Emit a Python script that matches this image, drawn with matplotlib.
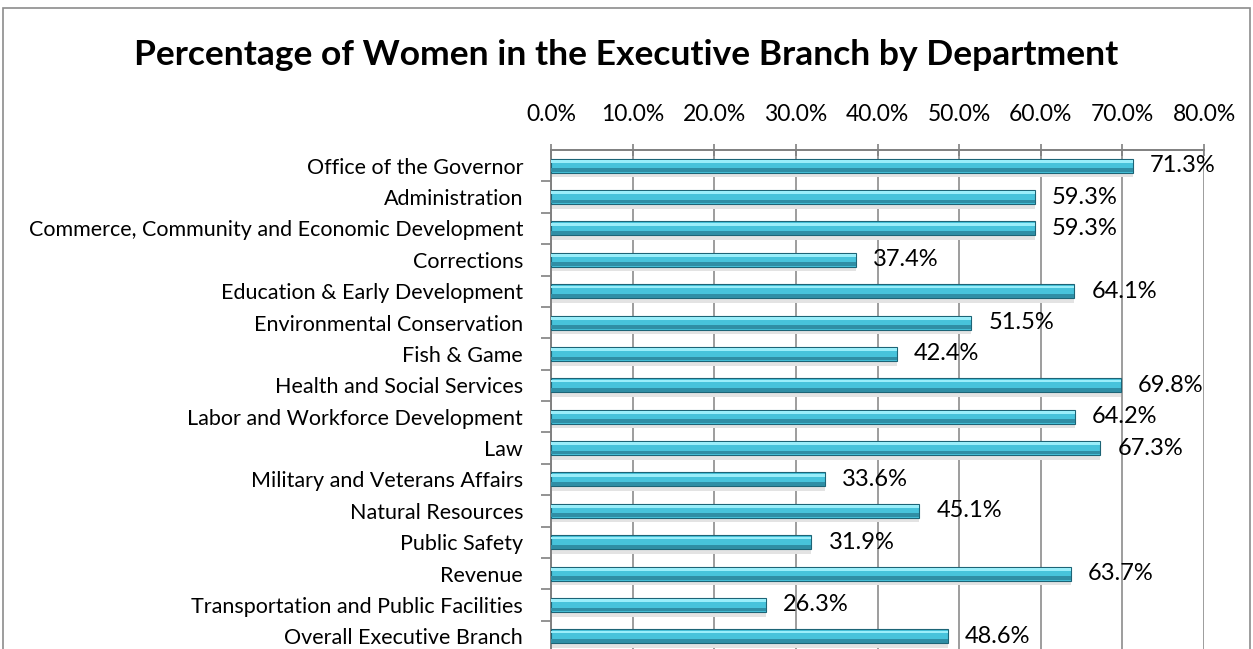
import numpy as np
import matplotlib
matplotlib.use("Agg")
import matplotlib.pyplot as plt
from matplotlib.ticker import FixedLocator
from matplotlib.patches import Rectangle

departments = [
    "Office of the Governor",
    "Administration",
    "Commerce, Community and Economic Development",
    "Corrections",
    "Education & Early Development",
    "Environmental Conservation",
    "Fish & Game",
    "Health and Social Services",
    "Labor and Workforce Development",
    "Law",
    "Military and Veterans Affairs",
    "Natural Resources",
    "Public Safety",
    "Revenue",
    "Transportation and Public Facilities",
    "Overall Executive Branch",
]
pct_women = [71.3, 59.3, 59.3, 37.4, 64.1, 51.5, 42.4, 69.8,
             64.2, 67.3, 33.6, 45.1, 31.9, 63.7, 26.3, 48.6]
xticks = [0, 10, 20, 30, 40, 50, 60, 70, 80]

plt.rcParams['font.family'] = ['Lato', 'DejaVu Sans']

fig = plt.figure(figsize=(12.53, 6.49), dpi=100)

# outer chart border (bottom is cut off in the original)
fig.patches.append(Rectangle((3 / 1253, -0.05), 1247 / 1253, 1.05 - 8 / 649,
                             transform=fig.transFigure, fill=False,
                             edgecolor='#8c8c8c', linewidth=1.2))

fig.text(0.5, 1 - 55 / 649, "Percentage of Women in the Executive Branch by Department",
         ha='center', va='center', fontsize=25.5, fontweight='bold')

ax = fig.add_axes([551 / 1253, -3 / 649, 653 / 1253, 502 / 649])

y = np.arange(len(departments))
h = 0.45

# soft shadow under the bars
ax.barh(y + h / 2 + 0.07, pct_women, height=0.15, color='#e3e3e3', zorder=2)
# main body
ax.barh(y, pct_women, height=h, color='#47c3db', edgecolor='#1d6476',
        linewidth=0.8, zorder=3)
# highlight top band
ax.barh(y - h * 0.3, pct_women, height=h * 0.2, color='#9aeefa', zorder=4)
# dark bottom band
ax.barh(y + h * 0.32, pct_women, height=h * 0.26, color='#2f8ea5', zorder=4)

for yi, v in zip(y, pct_women):
    ax.text(v + 2.1, yi, f"{v:.1f}%", va='center', ha='left', fontsize=17, zorder=6)

ax.set_xlim(0, 80)
ax.set_ylim(len(departments) - 0.5, -0.5)
ax.xaxis.tick_top()
ax.set_xticks(xticks)
ax.set_xticklabels([f"{t:.1f}%" for t in xticks], fontsize=16.5)
ax.tick_params(axis='x', direction='inout', length=8, color='#808080', pad=14, width=1.2)
ax.grid(axis='x', color='#8c8c8c', linewidth=1.2, zorder=1)

ax.set_yticks(y)
ax.set_yticklabels(departments, fontsize=15.5)
ax.tick_params(axis='y', length=0, pad=20)
ax.yaxis.set_minor_locator(FixedLocator(y[:-1] + 0.5))
ax.tick_params(axis='y', which='minor', direction='out', length=7, color='#808080', width=1.2)

for s in ['bottom', 'right']:
    ax.spines[s].set_visible(False)
for s in ['top', 'left']:
    ax.spines[s].set_color('#808080')
    ax.spines[s].set_linewidth(1.4)

fig.savefig("out.png", dpi=100)
